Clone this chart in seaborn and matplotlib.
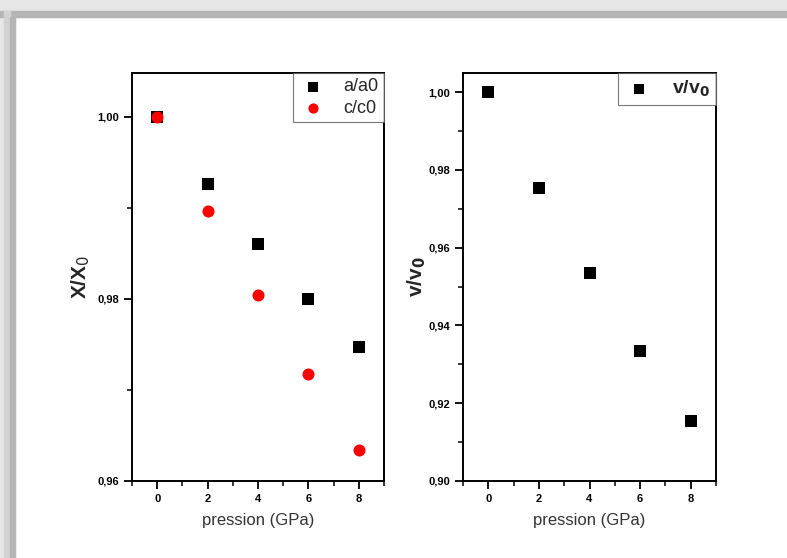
import matplotlib
matplotlib.use("Agg")
import matplotlib.pyplot as plt
import matplotlib.ticker as mticker
from matplotlib.patches import Rectangle
import seaborn as sns
import pandas as pd

pression = [0, 2, 4, 6, 8]
a_a0 = [1.0000, 0.9926, 0.9860, 0.9800, 0.9747]
c_c0 = [1.0000, 0.9897, 0.9804, 0.9718, 0.9634]
v_v0 = [1.0000, 0.9753, 0.9535, 0.9334, 0.9154]

sns.set_theme(style="ticks")
plt.rcParams['font.family'] = ['Liberation Sans', 'DejaVu Sans']

fig = plt.figure(figsize=(7.87, 5.58), dpi=100)
fig.patch.set_facecolor("white")

# picture frame shadow (top and left)
fig.patches.append(Rectangle((0, 1 - 17/558), 1, 17/558, transform=fig.transFigure, color="#e6e6e6", zorder=0))
fig.patches.append(Rectangle((0, 1 - 17/558), 1, 6/558, transform=fig.transFigure, color="#b5b5b5", zorder=1))
fig.patches.append(Rectangle((0, 0), 15/787, 1, transform=fig.transFigure, color="#e6e6e6", zorder=0))
fig.patches.append(Rectangle((4/787, 0), 6/787, 1 - 11/558, transform=fig.transFigure, color="#d2d2d2", zorder=1))
fig.patches.append(Rectangle((10/787, 0), 5/787, 1 - 17/558, transform=fig.transFigure, color="#b5b5b5", zorder=1))

ax1 = fig.add_axes([132/787, 77/558, 252/787, 408/558])
ax2 = fig.add_axes([463/787, 77/558, 253/787, 408/558])

df = pd.DataFrame({"p": pression, "a": a_a0, "c": c_c0, "v": v_v0})

sns.scatterplot(data=df, x="p", y="a", ax=ax1, marker="s", s=64, color="black",
                edgecolor="black", linewidth=0, label="a/a0", zorder=3)
sns.scatterplot(data=df, x="p", y="c", ax=ax1, marker="o", s=75, color="#ff0000",
                edgecolor="#ff0000", linewidth=0, label="c/c0", zorder=4)
sns.scatterplot(data=df, x="p", y="v", ax=ax2, marker="s", s=64, color="black",
                edgecolor="black", linewidth=0, label="v/v$_\\mathbf{0}$", zorder=3)

fmt = mticker.FuncFormatter(lambda v, pos: f"{v:.2f}".replace(".", ","))

for ax, ylim in [(ax1, (0.96, 1.0048)), (ax2, (0.90, 1.0049))]:
    ax.set_xlim(-1, 9)
    ax.set_ylim(*ylim)
    ax.xaxis.set_major_locator(mticker.MultipleLocator(2))
    ax.xaxis.set_minor_locator(mticker.MultipleLocator(1))
    ax.yaxis.set_major_locator(mticker.MultipleLocator(0.02))
    ax.yaxis.set_minor_locator(mticker.MultipleLocator(0.01))
    ax.yaxis.set_major_formatter(fmt)
    ax.tick_params(axis="both", which="major", direction="out", length=6, width=1.3,
                   labelsize=8, colors="black")
    ax.tick_params(axis="both", which="minor", direction="out", length=3.5, width=1.3)
    for lab in ax.get_xticklabels() + ax.get_yticklabels():
        lab.set_fontweight("bold")
    for sp in ax.spines.values():
        sp.set_linewidth(1.4)
        sp.set_color("black")
    ax.set_xlabel("pression (GPa)", fontsize=12, color="#333333", labelpad=6)

ax1.set_ylabel("X/X$_0$", fontsize=15, fontweight="bold", labelpad=4)
ax2.set_ylabel("v/v$_\\mathbf{0}$", fontsize=15, fontweight="bold", labelpad=0)

leg1 = ax1.legend(loc="upper right", fontsize=13, frameon=True, fancybox=False,
                  borderaxespad=0, handletextpad=0.9, borderpad=0.3, labelspacing=0.25,
                  markerscale=0.85, handlelength=1.6)
leg1.get_frame().set_edgecolor("#555555")
leg1.get_frame().set_linewidth(0.8)
leg2 = ax2.legend(loc="upper right", frameon=True, fancybox=False,
                  borderaxespad=0, handletextpad=0.9, borderpad=0.3,
                  markerscale=0.85, handlelength=1.6, prop={"weight": "bold", "size": 14})
leg2.get_frame().set_edgecolor("#555555")
leg2.get_frame().set_linewidth(0.8)

fig.savefig("out.png", dpi=100)
